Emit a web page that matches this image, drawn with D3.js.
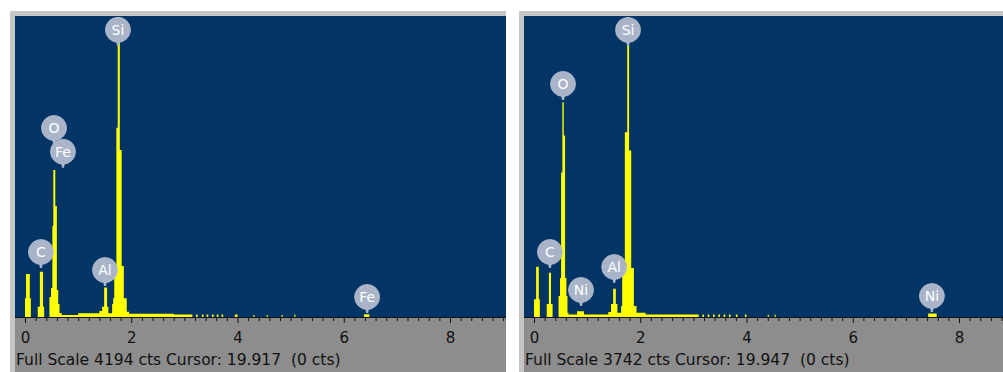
<!DOCTYPE html>
<html>
<head>
<meta charset="utf-8">
<script src="https://cdn.jsdelivr.net/npm/d3@7"></script>
<style>
    html, body { margin: 0; padding: 0; background: #fff; }
    svg { display: block; }
    .tick text { font-family: 'DejaVu Sans', Verdana, sans-serif; }
</style>
</head>
<body>
<div id="chart-container"></div>
<script>
// spectra as [keV, counts] steps: each level holds until the next point
const leftSpectrum = [
    [0.0, 250], [0.02, 590], [0.09, 250], [0.11, 0],
    [0.24, 130], [0.28, 620], [0.34, 130], [0.36, 0],
    [0.46, 267], [0.49, 393], [0.515, 1263], [0.533, 2048], [0.57, 1543], [0.6, 365], [0.625, 168], [0.65, 42], [0.69, 14],
    [1.0, 40], [1.4, 70], [1.45, 130], [1.49, 400], [1.545, 130], [1.57, 40],
    [1.64, 170], [1.66, 250], [1.68, 620], [1.72, 2640], [1.745, 4194], [1.785, 2330], [1.82, 700], [1.86, 250], [1.915, 60], [1.96, 30],
    [2.8, 20], [3.15, 0],
    [3.22, 20], [3.25, 0], [3.33, 20], [3.36, 0], [3.42, 20], [3.45, 0], [3.52, 20], [3.55, 0],
    [3.61, 20], [3.64, 0], [3.7, 20], [3.73, 0], [3.95, 20], [4.0, 0],
    [4.3, 15], [4.32, 0], [4.55, 15], [4.57, 0], [4.83, 15], [4.85, 0], [5.07, 20], [5.09, 0],
    [6.38, 25], [6.48, 0],
];
const rightSpectrum = [
    [0.0, 210], [0.04, 615], [0.09, 210], [0.11, 0],
    [0.24, 150], [0.28, 540], [0.32, 150], [0.35, 0],
    [0.462, 251], [0.49, 477], [0.51, 1796], [0.534, 2675], [0.56, 2260], [0.585, 477], [0.61, 251], [0.63, 40], [0.65, 20],
    [0.81, 60], [0.94, 20],
    [1.4, 50], [1.45, 150], [1.49, 340], [1.54, 150], [1.57, 40],
    [1.64, 125], [1.66, 600], [1.71, 2300], [1.755, 3742], [1.79, 2070], [1.83, 600], [1.88, 125], [1.93, 40],
    [2.1, 20], [3.1, 0],
    [3.17, 20], [3.2, 0], [3.27, 20], [3.3, 0], [3.37, 20], [3.4, 0], [3.47, 20], [3.5, 0],
    [3.57, 20], [3.6, 0], [3.67, 20], [3.7, 0], [3.8, 20], [3.83, 0], [3.97, 20], [4.0, 0],
    [4.4, 15], [4.42, 0], [4.53, 15], [4.55, 0],
    [7.42, 30], [7.58, 0],
];

// element markers: energy of the pin and count level of its tip
const leftLabels = [
    { el: 'O', e: 0.546, tip: 2413 },
    { el: 'Fe', e: 0.715, tip: 2080 },
    { el: 'Si', e: 1.75, tip: 3790 },
    { el: 'C', e: 0.3, tip: 673 },
    { el: 'Al', e: 1.506, tip: 420 },
    { el: 'Fe', e: 6.44, tip: 42 },
];
const rightLabels = [
    { el: 'O', e: 0.546, tip: 2704 },
    { el: 'Si', e: 1.77, tip: 3380 },
    { el: 'C', e: 0.3, tip: 601 },
    { el: 'Ni', e: 0.885, tip: 125 },
    { el: 'Al', e: 1.51, tip: 413 },
    { el: 'Ni', e: 7.49, tip: 50 },
];

const tickLabels = [0, 2, 4, 6, 8];
const fullScales = [4194, 3742];
const cursors = ['19.917', '19.947'];

const WIDTH = 1003;
const HEIGHT = 372;
const FRAME = 5;
const PLOT_TOP = 16;
const BASELINE = 316;
const AXIS_Y = 317;
const LABEL_RADIUS = 12.5;
const PIN_LENGTH = 16;
const FONT = "'DejaVu Sans', Verdana, sans-serif";

const svg = d3
    .select('#chart-container')
    .append('svg')
    .attr('width', WIDTH)
    .attr('height', HEIGHT);

function drawPanel(left, right, spectrum, labels, fullScale, cursor, id) {
    const plotLeft = left + FRAME;
    const g = svg.append('g');

    g.append('rect')
        .attr('x', left)
        .attr('y', PLOT_TOP - FRAME)
        .attr('width', right - left)
        .attr('height', HEIGHT)
        .attr('fill', '#c6c6c6');
    g.append('rect')
        .attr('x', plotLeft)
        .attr('y', PLOT_TOP)
        .attr('width', right - plotLeft)
        .attr('height', AXIS_Y - PLOT_TOP)
        .attr('fill', '#033466');
    g.append('rect')
        .attr('x', plotLeft)
        .attr('y', AXIS_Y)
        .attr('width', right - plotLeft)
        .attr('height', HEIGHT - AXIS_Y)
        .attr('fill', '#8d8d8d');

    const x = d3.scaleLinear().domain([0, 8]).range([plotLeft + 10, plotLeft + 435]);
    const y = d3.scaleLinear().domain([0, fullScale]).range([BASELINE, PLOT_TOP + 1]);

    g.append('clipPath')
        .attr('id', `clip-${id}`)
        .append('rect')
        .attr('x', plotLeft)
        .attr('y', PLOT_TOP)
        .attr('width', right - plotLeft)
        .attr('height', AXIS_Y - PLOT_TOP);

    const area = d3
        .area()
        .curve(d3.curveStepAfter)
        .x((d) => x(d[0]))
        .y0(AXIS_Y)
        .y1((d) => (d[1] > 0 ? y(d[1]) : AXIS_Y));

    g.append('path')
        .datum(spectrum)
        .attr('clip-path', `url(#clip-${id})`)
        .attr('fill', '#ffff00')
        .attr('d', area);

    // axis
    const maxE = x.invert(right);
    const minor = d3.range(0, maxE, 0.2).filter((v) => Math.abs(v - Math.round(v / 2) * 2) > 0.01);
    g.append('g')
        .attr('transform', `translate(0,${AXIS_Y})`)
        .call(d3.axisBottom(x).tickValues(minor).tickSize(4).tickSizeOuter(0).tickFormat(''))
        .call((a) => a.select('.domain').remove())
        .call((a) => a.selectAll('line').attr('stroke', '#111'));
    g.append('g')
        .attr('transform', `translate(0,${AXIS_Y})`)
        .call(d3.axisBottom(x).tickValues(tickLabels).tickSize(6).tickPadding(9).tickFormat(d3.format('d')))
        .call((a) => a.select('.domain').remove())
        .call((a) => a.selectAll('line').attr('stroke', '#111'))
        .call((a) => a.selectAll('text').attr('font-size', 15).attr('fill', '#111'));
    g.append('line')
        .attr('x1', plotLeft)
        .attr('x2', right)
        .attr('y1', AXIS_Y + 0.5)
        .attr('y2', AXIS_Y + 0.5)
        .attr('stroke', '#111');

    g.append('text')
        .attr('x', plotLeft + 1)
        .attr('y', 365)
        .attr('font-family', FONT)
        .attr('font-size', 15.5)
        .attr('fill', '#111')
        .attr('xml:space', 'preserve')
        .text(`Full Scale ${fullScale} cts Cursor: ${cursor}  (0 cts)`);

    // element markers
    const marker = g
        .selectAll('g.marker')
        .data(labels)
        .join('g')
        .attr('class', 'marker')
        .attr('transform', (d) => `translate(${x(d.e)},${y(d.tip) - PIN_LENGTH})`);
    marker
        .append('path')
        .attr('d', `M-2,${LABEL_RADIUS - 2}L2,${LABEL_RADIUS - 2}L1,${PIN_LENGTH}L-1,${PIN_LENGTH}z`)
        .attr('fill', '#a9b4c8');
    marker
        .append('circle')
        .attr('r', LABEL_RADIUS)
        .attr('fill', '#a9b4c8')
        .attr('stroke', '#b6bfd0')
        .attr('stroke-width', 0.8);
    marker
        .append('text')
        .attr('text-anchor', 'middle')
        .attr('y', '.36em')
        .attr('font-family', FONT)
        .attr('font-size', 14)
        .attr('fill', '#fff')
        .text((d) => d.el);
}

drawPanel(10, 506, leftSpectrum, leftLabels, fullScales[0], cursors[0], 'left');
drawPanel(519, WIDTH, rightSpectrum, rightLabels, fullScales[1], cursors[1], 'right');
</script>
</body>
</html>
